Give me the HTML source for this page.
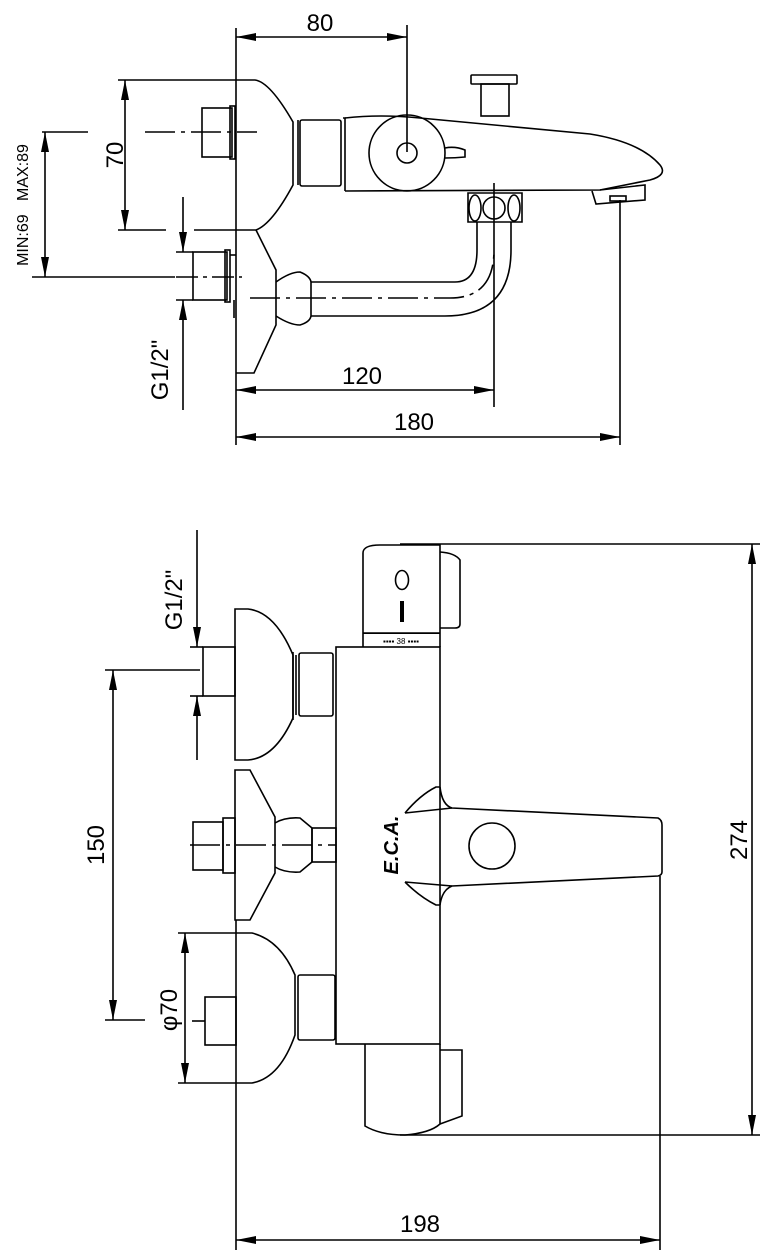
<!DOCTYPE html>
<html><head><meta charset="utf-8"><style>
html,body{margin:0;padding:0;background:#fff}
svg{display:block}
text{font-family:"Liberation Sans",sans-serif;fill:#000}
</style></head><body>
<svg width="770" height="1258" viewBox="0 0 770 1258" xmlns="http://www.w3.org/2000/svg">
<defs>
<marker id="a" viewBox="0 0 20 8" refX="20" refY="4" markerWidth="20" markerHeight="8" orient="auto-start-reverse" markerUnits="userSpaceOnUse"><path d="M0,0 L20,4 L0,8 z" fill="#000"/></marker>
</defs>
<g fill="none" stroke="#000" stroke-width="1.6">
<line x1="236" y1="28" x2="236" y2="445"/>
<line x1="236" y1="37" x2="407" y2="37" marker-start="url(#a)" marker-end="url(#a)"/>
<line x1="407" y1="25" x2="407" y2="152"/>
<line x1="118" y1="80" x2="236" y2="80"/>
<line x1="118" y1="230" x2="166" y2="230"/><line x1="194" y1="230" x2="236" y2="230"/>
<path d="M236,80 L255,80 Q270,82 293,122 L293,185 Q272,224 256,230 L236,230"/>
<line x1="125" y1="80" x2="125" y2="230" marker-start="url(#a)" marker-end="url(#a)"/>
<rect x="202" y="108" width="30" height="49"/>
<rect x="230" y="106" width="5" height="53"/>
<line x1="145" y1="132" x2="257" y2="132" stroke-dasharray="30,6,4,6"/>
<line x1="42" y1="132" x2="88" y2="132"/>
<line x1="45" y1="132" x2="45" y2="277" marker-start="url(#a)" marker-end="url(#a)"/>
<line x1="32" y1="277" x2="175" y2="277"/>
<rect x="193" y="252" width="34" height="48"/>
<rect x="225" y="250" width="5" height="52"/>
<line x1="230" y1="255" x2="236" y2="255"/>
<line x1="176" y1="252" x2="193" y2="252"/><line x1="176" y1="300" x2="193" y2="300"/>
<line x1="183" y1="197" x2="183" y2="252" marker-end="url(#a)"/>
<line x1="183" y1="410" x2="183" y2="300" marker-end="url(#a)"/>
<line x1="176" y1="277" x2="242" y2="277" stroke-dasharray="22,5,4,5"/>
<line x1="234" y1="300" x2="234" y2="318"/>
<path d="M256,230 L276,270 L276,325 L254,373 L236,373"/>
<path d="M276,282 Q290,272 300,272 Q310,276 311,282 L311,316 Q310,322 300,325 Q290,325 276,316"/>
<line x1="311" y1="282" x2="455" y2="282"/>
<line x1="311" y1="316" x2="445" y2="316"/>
<path d="M455,282 Q477,282 477,250 L477,222"/>
<path d="M445,316 Q511,316 511,250 L511,222"/>
<path d="M250,298 L450,298 Q494,298 494,250" stroke-dasharray="30,6,4,6"/>
<path d="M298,120 L298,185"/><rect x="300" y="120" width="41" height="66" rx="2"/>
<path d="M343,118 L345,118 L345,191"/>
<path d="M345,118 Q380,114 420,118 L590,134 Q640,142 660,165 Q668,175 650,180 L600,190 L345,191"/>
<circle cx="407" cy="153" r="38"/>
<circle cx="407" cy="153" r="10"/>
<path d="M445,148 Q455,146 465,150 L465,157 Q455,158 445,158"/>
<rect x="471" y="75" width="46" height="9" rx="1"/>
<rect x="481" y="84" width="28" height="32"/>
<path d="M468,193 L522,193 L522,222 L468,222 z"/>
<ellipse cx="475" cy="208" rx="6" ry="13"/>
<circle cx="494" cy="208" r="11"/>
<ellipse cx="514" cy="208" rx="6" ry="13"/>
<line x1="494" y1="183" x2="494" y2="407"/>
<path d="M592,191 L596,204 L645,200 L645,185 L600,190"/>
<rect x="610" y="196" width="16" height="5"/>
<line x1="620" y1="200" x2="620" y2="445"/>
<line x1="236" y1="390" x2="494" y2="390" marker-start="url(#a)" marker-end="url(#a)"/>
<line x1="236" y1="437" x2="620" y2="437" marker-start="url(#a)" marker-end="url(#a)"/>

<line x1="400" y1="544" x2="760" y2="544"/>
<line x1="400" y1="1135" x2="760" y2="1135"/>
<line x1="752" y1="544" x2="752" y2="1135" marker-start="url(#a)" marker-end="url(#a)"/>
<path d="M363,647 L363,553 Q363,545 380,545 L440,545 L440,647"/>
<path d="M440,552 Q455,553 460,560 L460,624 Q460,628 455,628 L440,628"/>
<line x1="363" y1="633" x2="440" y2="633"/>
<ellipse cx="402" cy="580" rx="6.5" ry="9.5"/>
<rect x="336" y="647" width="104" height="397"/>
<path d="M235,609 L248,609 Q275,612 293,655 L293,718 Q275,758 248,760 L235,760 Z"/>
<path d="M293,652 L293,720"/><rect x="299" y="653" width="34" height="63" rx="2"/>
<line x1="296" y1="655" x2="296" y2="715"/>
<rect x="203" y="647" width="32" height="49"/>
<line x1="190" y1="647" x2="203" y2="647"/><line x1="190" y1="696" x2="203" y2="696"/>
<line x1="197" y1="530" x2="197" y2="647" marker-end="url(#a)"/>
<line x1="197" y1="760" x2="197" y2="696" marker-end="url(#a)"/>
<line x1="105" y1="670" x2="200" y2="670"/>
<line x1="113" y1="670" x2="113" y2="1020" marker-start="url(#a)" marker-end="url(#a)"/>
<line x1="105" y1="1020" x2="145" y2="1020"/>
<path d="M235,770 L250,770 L275,817 L275,873 L250,920 L235,920 Z"/>
<path d="M275,823 Q285,817 300,818 L312,828 L312,862 L300,872 Q285,873 275,867"/>
<rect x="312" y="828" width="24" height="34"/>
<rect x="193" y="822" width="30" height="48"/>
<rect x="223" y="818" width="12" height="55"/>
<line x1="190" y1="845" x2="336" y2="845" stroke-dasharray="30,6,4,6"/>
<path d="M440,787 Q442,805 452,808 L658,818 Q662,820 662,825 L662,872 Q662,875 658,876 L452,886 Q442,890 440,905"/>
<path d="M405,813 L452,808 M405,882 L452,886"/>
<path d="M405,813 Q420,795 436,787 L440,787"/>
<path d="M405,882 Q420,897 436,905 L440,905"/>
<circle cx="492" cy="846" r="23"/>
<path d="M236,933 L252,933 Q280,940 295,975 L295,1035 Q280,1078 252,1083 L236,1083"/>
<line x1="178" y1="933" x2="236" y2="933"/><line x1="178" y1="1083" x2="236" y2="1083"/>
<rect x="298" y="975" width="37" height="65" rx="2"/>
<rect x="205" y="997" width="31" height="48"/>
<line x1="192" y1="1021" x2="205" y2="1021"/>
<line x1="185" y1="933" x2="185" y2="1083" marker-start="url(#a)" marker-end="url(#a)"/>
<path d="M365,1044 L365,1126 Q380,1135 405,1135 Q430,1133 440,1124 L440,1044"/>
<path d="M440,1050 L462,1050 L462,1116 L440,1124"/>
<line x1="236" y1="920" x2="236" y2="1250"/>
<line x1="660" y1="876" x2="660" y2="1250"/>
<line x1="236" y1="1240" x2="660" y2="1240" marker-start="url(#a)" marker-end="url(#a)"/>
</g>
<g stroke="none" fill="#000">
<rect x="400" y="601" width="4" height="21"/>
<rect x="363" y="633" width="77" height="1"/>
</g>
<text x="320" y="31" font-size="24" text-anchor="middle">80</text>
<text x="362" y="384" font-size="24" text-anchor="middle">120</text>
<text x="414" y="430" font-size="24" text-anchor="middle">180</text>
<text x="420" y="1232" font-size="24" text-anchor="middle">198</text>
<text transform="translate(123,155) rotate(-90)" font-size="24" text-anchor="middle">70</text>
<text transform="translate(28,205) rotate(-90)" font-size="16" text-anchor="middle">MIN:69&#160;&#160;&#160;MAX:89</text>
<text transform="translate(168,370) rotate(-90)" font-size="24" text-anchor="middle">G1/2"</text>
<text transform="translate(182,600) rotate(-90)" font-size="24" text-anchor="middle">G1/2"</text>
<text transform="translate(104,845) rotate(-90)" font-size="24" text-anchor="middle">150</text>
<text transform="translate(177,1010) rotate(-90)" font-size="24" text-anchor="middle">φ70</text>
<text transform="translate(747,840) rotate(-90)" font-size="24" text-anchor="middle">274</text>
<text x="401" y="644" font-size="8" text-anchor="middle">▪▪▪▪ 38 ▪▪▪▪</text>
<text transform="translate(398,845) rotate(-90)" font-size="20" font-style="italic" font-weight="bold" text-anchor="middle">E.C.A.</text>
</svg>
</body></html>
